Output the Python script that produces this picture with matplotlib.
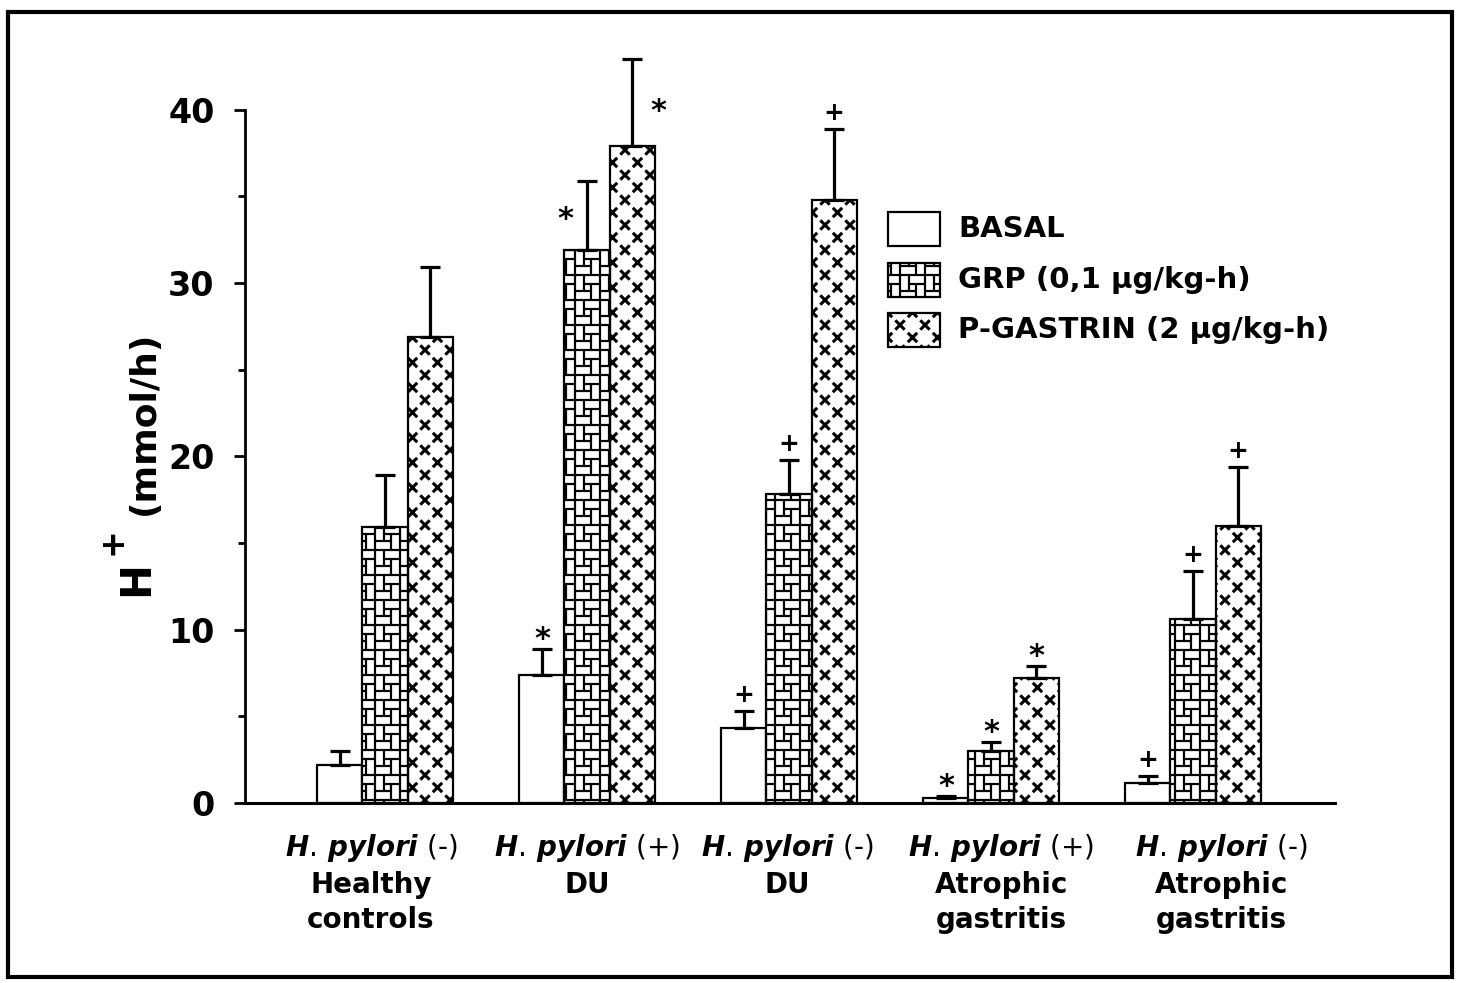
import matplotlib
matplotlib.use("Agg")
import matplotlib.pyplot as plt
import matplotlib.hatch as mhatch
from matplotlib.path import Path
from matplotlib.patches import Rectangle
from matplotlib.ticker import FixedLocator
import numpy as np

# ---------------- data ----------------
hp_status = ["(-)", "(+)", "(-)", "(+)", "(-)"]
diagnosis = [["Healthy", "controls"], ["DU"], ["DU"],
             ["Atrophic", "gastritis"], ["Atrophic", "gastritis"]]
series_names = ["BASAL", "GRP (0,1 \u00b5g/kg-h)", "P-GASTRIN (2 \u00b5g/kg-h)"]

basal = [2.2, 7.4, 4.3, 0.3, 1.15]
basal_err = [0.8, 1.5, 1.0, 0.1, 0.4]
grp = [15.9, 31.9, 17.8, 3.0, 10.6]
grp_err = [3.0, 4.0, 2.0, 0.5, 2.8]
gastrin = [26.9, 37.9, 34.8, 7.2, 16.0]
gastrin_err = [4.0, 5.0, 4.1, 0.7, 3.4]

# significance marks: (group, series, symbol, placement)
marks = [(1, 0, "*", "top"), (1, 1, "*", "left"), (1, 2, "*", "right"),
         (2, 0, "+", "top"), (2, 1, "+", "top"), (2, 2, "+", "top"),
         (3, 0, "*", "top"), (3, 1, "*", "top"), (3, 2, "*", "top"),
         (4, 0, "+", "top"), (4, 1, "+", "top"), (4, 2, "+", "top")]

yticks_major = [0, 10, 20, 30, 40]
yticks_minor = [5, 15, 25, 35]

# ---------------- custom hatch patterns ----------------
HW = 2.2  # hatch stroke width (pt)
plt.rcParams["hatch.linewidth"] = HW
TILE = 100.0                     # hatch tile size in pixels (1 inch @ 100 dpi)
PXU = 1.0 / TILE                 # one pixel in hatch units
STROKE = HW * 100 / 72 * PXU     # stroke width in hatch units


class XMarkHatch(mhatch.HatchPatternBase):
    def __init__(self, hatch, density):
        self.centers = []
        if "x" in hatch:
            n = 4
            p = 1.0 / n
            for i in range(n + 1):
                for j in range(n + 1):
                    self.centers.append((i * p, j * p))
            for i in range(n):
                for j in range(n):
                    self.centers.append(((i + 0.5) * p, (j + 0.5) * p))
        self.num_vertices = 4 * len(self.centers)

    def set_vertices_and_codes(self, vertices, codes):
        s = 3.6 * PXU
        for k, (cx, cy) in enumerate(self.centers):
            vertices[4 * k:4 * k + 4] = [(cx - s, cy - s), (cx + s, cy + s),
                                         (cx - s, cy + s), (cx + s, cy - s)]
            codes[4 * k:4 * k + 4] = [Path.MOVETO, Path.LINETO,
                                      Path.MOVETO, Path.LINETO]


class WeaveHatch(mhatch.HatchPatternBase):
    def __init__(self, hatch, density):
        self.rects = []
        if "+" in hatch:
            n = 4
            c = 1.0 / n
            L = 16.0 * PXU
            s = c - L
            shrink = 1.1 * PXU + STROKE / 2
            for i in range(n):
                for j in range(n):
                    x0, y0 = i * c, j * c
                    for (a, b, w, h) in [(0, 0, L, s), (L, 0, s, L), (s, L, L, s),
                                         (0, s, s, L), (s, s, L - s, L - s)]:
                        self.rects.append((x0 + a + shrink, y0 + b + shrink,
                                           w - 2 * shrink, h - 2 * shrink))
        self.num_vertices = 5 * len(self.rects)

    def set_vertices_and_codes(self, vertices, codes):
        for k, (x, y, w, h) in enumerate(self.rects):
            vertices[5 * k:5 * k + 5] = [(x, y), (x + w, y), (x + w, y + h),
                                         (x, y + h), (x, y)]
            codes[5 * k:5 * k + 5] = [Path.MOVETO, Path.LINETO, Path.LINETO,
                                      Path.LINETO, Path.CLOSEPOLY]


mhatch._hatch_types[:] = [XMarkHatch, WeaveHatch]

# ---------------- figure ----------------
plt.rcParams["font.family"] = ["DejaVu Sans"]
plt.rcParams["mathtext.fontset"] = "custom"
plt.rcParams["mathtext.it"] = "DejaVu Sans:italic:bold"
plt.rcParams["mathtext.rm"] = "DejaVu Sans"

W, H = 1464, 983
fig = plt.figure(figsize=(W / 100, H / 100), dpi=100)
ax = fig.add_axes([245 / W, 1 - 803 / H, (1335 - 245) / W, 780 / H])

x = np.arange(len(basal))
bw = 0.223
means = [basal, grp, gastrin]
errs = [basal_err, grp_err, gastrin_err]
offsets = [-bw, 0.0, bw]

# BASAL
ax.bar(x + offsets[0], basal, bw, facecolor="white", edgecolor="black",
       linewidth=1.6, zorder=2)
# GRP: black background with white weave, then black outline
ax.bar(x + offsets[1], grp, bw, facecolor="black", edgecolor="white",
       linewidth=0, hatch="+", zorder=2)
ax.bar(x + offsets[1], grp, bw, fill=False, edgecolor="black",
       linewidth=1.6, zorder=2.1)
# P-GASTRIN
ax.bar(x + offsets[2], gastrin, bw, facecolor="white", edgecolor="black",
       linewidth=1.6, hatch="x", zorder=2)

for m, e, off in zip(means, errs, offsets):
    ax.errorbar(x + off, m, yerr=[np.zeros(len(m)), e], fmt="none",
                ecolor="black", elinewidth=2.3, capsize=7.5, capthick=2.3,
                zorder=3, clip_on=False)

# significance marks
for g, s, sym, place in marks:
    mval, eval_ = means[s][g], errs[s][g]
    xc = x[g] + offsets[s]
    if sym == "*":
        fs, base = 22, -17
    else:
        fs, base = 18, -9
    if place == "top":
        xy = (xc, mval + eval_)
        dx, dy = 0, 18
    elif place == "left":
        xy = (xc - bw / 2, mval + eval_ / 2)
        dx, dy = 1, 4
    else:
        xy = (xc + bw / 2, mval + eval_ / 2)
        dx, dy = 4, 0
    ax.annotate(sym, xy=xy, xytext=(dx * 0.72, (dy + base) * 0.72),
                textcoords="offset points", ha="center", va="baseline",
                fontsize=fs, fontweight="bold", annotation_clip=False)

# axes styling
ax.set_xlim(-0.693, 4.703)
ax.set_ylim(0, 45)
ax.spines["top"].set_visible(False)
ax.spines["right"].set_visible(False)
ax.spines["left"].set_bounds(0, 40)
ax.spines["left"].set_linewidth(2.0)
ax.spines["bottom"].set_linewidth(2.2)
ax.yaxis.set_major_locator(FixedLocator(yticks_major))
ax.yaxis.set_minor_locator(FixedLocator(yticks_minor))
ax.tick_params(axis="y", which="major", length=8, width=2, pad=14,
               labelsize=24)
ax.tick_params(axis="y", which="minor", length=5, width=2)
for lab in ax.get_yticklabels():
    lab.set_fontweight("bold")
ax.set_xticks([])

# category labels
label_dx = [-0.07, 0.0, -0.01, 0.05, 0.14]
for i in range(len(basal)):
    xl = x[i] + label_dx[i]
    ax.annotate(r"$\mathit{H.\,pylori}$ " + hp_status[i], xy=(xl, 0),
                xycoords=ax.get_xaxis_transform(), xytext=(0, -32.5),
                textcoords="offset points", ha="center", va="center",
                fontsize=20, annotation_clip=False)
    for j, line in enumerate(diagnosis[i]):
        ax.annotate(line, xy=(xl, 0), xycoords=ax.get_xaxis_transform(),
                    xytext=(0, -59 - 25.5 * j), textcoords="offset points",
                    ha="center", va="center", fontsize=20, fontweight="bold",
                    annotation_clip=False)

# y-axis label
fig.text(136 / W, 1 - 578 / H, "H", rotation=90, fontsize=30,
         fontweight="bold", ha="center", va="center")
fig.text(112 / W, 1 - 541 / H, "+", rotation=90, fontsize=24,
         fontweight="bold", ha="center", va="center")
fig.text(144 / W, 1 - 423 / H, "(mmol/h)", rotation=90, fontsize=26,
         fontweight="bold", ha="center", va="center")

# legend (manual)
styles = [dict(facecolor="white", edgecolor="black", linewidth=1.6),
          dict(facecolor="black", edgecolor="white", linewidth=0, hatch="+"),
          dict(facecolor="white", edgecolor="black", linewidth=1.6, hatch="x")]
row_tops = [212, 263, 313]
for name, st, top in zip(series_names, styles, row_tops):
    r = Rectangle((888 / W, 1 - (top + 34) / H), 52 / W, 34 / H,
                  transform=fig.transFigure, **st)
    fig.add_artist(r)
    if st.get("hatch") == "+":
        fig.add_artist(Rectangle((888 / W, 1 - (top + 34) / H), 52 / W, 34 / H,
                                 transform=fig.transFigure, fill=False,
                                 edgecolor="black", linewidth=1.6))
    fig.text(958 / W, 1 - (top + 17) / H, name, fontsize=21,
             fontweight="bold", ha="left", va="center")

# outer frame
fig.add_artist(Rectangle((8 / W, 1 - 977 / H), (1452 - 8) / W, (977 - 12) / H,
                         transform=fig.transFigure, fill=False,
                         edgecolor="black", linewidth=3))

fig.savefig("out.png", dpi=100)
